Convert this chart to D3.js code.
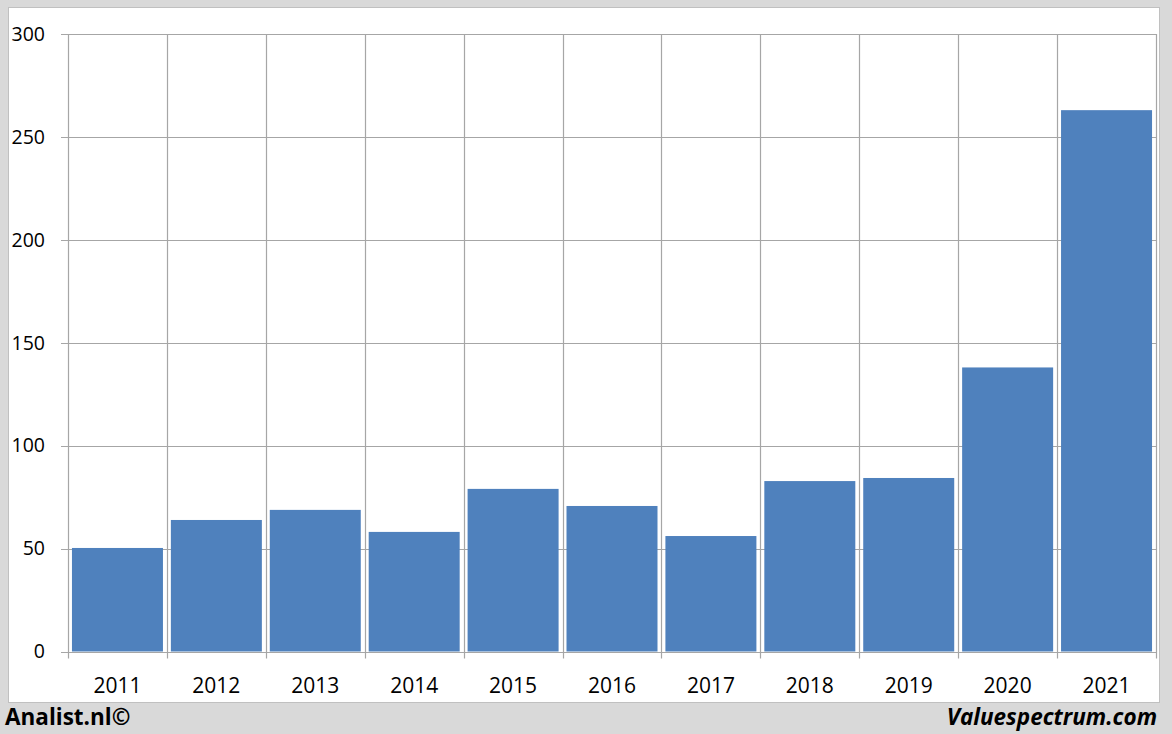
<!DOCTYPE html>
<html><head><meta charset="utf-8">
<script src="https://cdn.jsdelivr.net/npm/d3@7"></script>
<style>body{margin:0;background:#d9d9d9;} svg{display:block;}</style>
</head><body>
<svg id="chart" width="1172" height="734"></svg>
<script>
const years = ["2011","2012","2013","2014","2015","2016","2017","2018","2019","2020","2021"];
const values = [50.3, 63.9, 68.8, 58.1, 79.0, 70.7, 56.1, 82.8, 84.3, 138.0, 263.0];
const yTicks = [0, 50, 100, 150, 200, 250, 300];

(function(){
const svg = d3.select("#chart");
const W = 1172, H = 734;
svg.append("rect").attr("x",0).attr("y",0).attr("width",W).attr("height",H).attr("fill","#d9d9d9");
svg.append("rect").attr("x",8.5).attr("y",7.5).attr("width",1151).attr("height",695)
  .attr("fill","#ffffff").attr("stroke","#c0c0c0").attr("stroke-width",1);

const pLeft = 68, pRight = 1156, pTop = 34, pBottom = 651.5;
const x = d3.scaleBand().domain(years).range([pLeft, pRight]).paddingInner(0.08).paddingOuter(0.04);
const y = d3.scaleLinear().domain([0, 300]).range([pBottom, pTop]);
const font = "'Open Sans', 'Liberation Sans', sans-serif";

// horizontal gridlines
svg.append("g").selectAll("line").data(yTicks).join("line")
  .attr("x1", pLeft - 7).attr("x2", pRight)
  .attr("y1", d => Math.round(y(d)) + 0.5).attr("y2", d => Math.round(y(d)) + 0.5)
  .attr("stroke", "#a6a6a6").attr("stroke-width", 1.2);

// vertical gridlines at category boundaries
const bounds = d3.range(years.length + 1).map(i => pLeft + i * (pRight - pLeft) / years.length);
svg.append("g").selectAll("line").data(bounds).join("line")
  .attr("x1", d => Math.round(d) + 0.5).attr("x2", d => Math.round(d) + 0.5)
  .attr("y1", pTop).attr("y2", pBottom + 7)
  .attr("stroke", "#a6a6a6").attr("stroke-width", 1.2);

// bars
svg.append("g").selectAll("rect").data(values).join("rect")
  .attr("x", (d,i) => x(years[i]))
  .attr("width", x.bandwidth())
  .attr("y", d => y(d))
  .attr("height", d => y(0) - y(d))
  .attr("fill", "#4f81bd");

// y labels
svg.append("g").selectAll("text").data(yTicks).join("text")
  .attr("x", 45).attr("y", d => y(d))
  .attr("dy", "0.35em").attr("text-anchor", "end")
  .attr("font-family", font).attr("font-size", 19.5).attr("fill", "#000")
  .text(d => d);

// x labels
svg.append("g").selectAll("text").data(years).join("text")
  .attr("x", d => x(d) + x.bandwidth()/2).attr("y", 693)
  .attr("text-anchor", "middle")
  .attr("font-family", font).attr("font-size", 21).attr("fill", "#000")
  .text(d => d);

// footer
svg.append("text").attr("x", 5).attr("y", 725)
  .attr("font-family", font).attr("font-weight", "bold").attr("font-size", 22.5)
  .attr("fill", "#000").text("Analist.nl©");
svg.append("text").attr("x", 1157).attr("y", 725).attr("text-anchor", "end")
  .attr("font-family", font).attr("font-weight", "bold").attr("font-style", "italic").attr("font-size", 22.5)
  .attr("fill", "#000").text("Valuespectrum.com");
})();
</script>
</body></html>
